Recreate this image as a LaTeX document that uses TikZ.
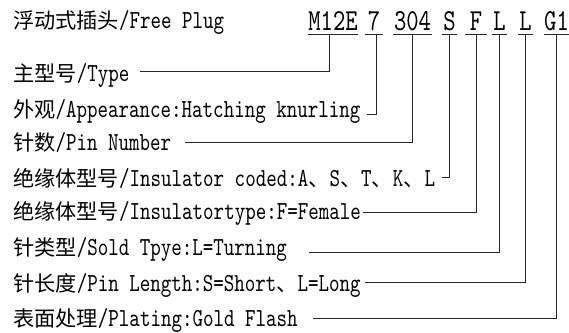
\documentclass[tikz,border=0pt]{standalone}
\usepackage{fontspec}
\setmainfont{lmmono10-regular.otf}[FakeStretch=0.77]
\newfontfamily\cjk{Noto Sans CJK SC}[Scale=0.815]
\newcommand{\zh}[1]{{\cjk #1}}

\begin{document}
\begin{tikzpicture}[x=1pt, y=-1pt,
    lbl/.style={anchor=base west, inner sep=0pt, text height=19pt, text depth=3pt,
        font=\fontsize{26}{28}\selectfont},
    code/.style={anchor=base, inner sep=0pt, text height=18pt, text depth=4pt,
        font=\fontsize{30.5}{32}\selectfont},
    link/.style={draw=black!85, line width=0.9pt},
]
\useasboundingbox (0,0) rectangle (569,332);

% left column of labels
\node[lbl] (tPlug)   at (13,28)  {\zh{浮动式插头}/Free Plug};
\node[lbl] (tType)   at (13,81)  {\zh{主型号}/Type};
\node[lbl] (tApp)    at (13,117) {\zh{外观}/Appearance:Hatching knurling};
\node[lbl] (tPin)    at (13,150) {\zh{针数}/Pin Number};
\node[lbl] (tCoded)  at (13,186) {\zh{绝缘体型号}/Insulator coded:A\zh{、}S\zh{、}T\zh{、}K\zh{、}L};
\node[lbl] (tFemale) at (13,219) {\zh{绝缘体型号}/Insulatortype:F=Female};
\node[lbl] (tSold)   at (13,255) {\zh{针类型}/Sold Tpye:L=Turning};
\node[lbl] (tLen)    at (13,291) {\zh{针长度}/Pin Length:S=Short\zh{、}L=Long};
\node[lbl] (tPlate)  at (13,326) {\zh{表面处理}/Plating:Gold Flash};

% part number, one underlined group each
\foreach \n/\t/\x/\w in {cM/M12E/333/50, c7/7/374/18, cN/304/412.5/39, cS/S/449.5/15,
        cF/F/476/22, cL/L/499.5/15, cLL/L/525.5/15, cG/G1/556.5/23}
    \node[code, minimum width=\w] (\n) at (\x,30) {\t};
\foreach \n in {cM, c7, cN, cS, cF, cL, cLL, cG}
    \draw[link] (\n.south west) -- (\n.south east);

% leaders
\draw[link] ([xshift=-4pt]cM.south) |- ([xshift=10.7pt, yshift=2pt]tType.east);
\draw[link] ([xshift=2pt]c7.south)  |- ([xshift=6.7pt, yshift=-5pt]tApp.east);
\draw[link] (cN.south)  |- ([xshift=13.6pt]tPin.east);
\draw[link] (cS.south)  |- ([xshift=7pt, yshift=1pt]tCoded.east);
\draw[link] (cF.south)  |- ([xshift=2.4pt, yshift=-1pt]tFemale.east);
\draw[link] (cL.south)  |- ([xshift=22pt, yshift=-5pt]tSold.east);
\draw[link] (cLL.south) |- ([xshift=4.5pt, yshift=1pt]tLen.east);
\draw[link] (cG.south)  |- ([xshift=14.7pt]tPlate.east);

\end{tikzpicture}
\end{document}
